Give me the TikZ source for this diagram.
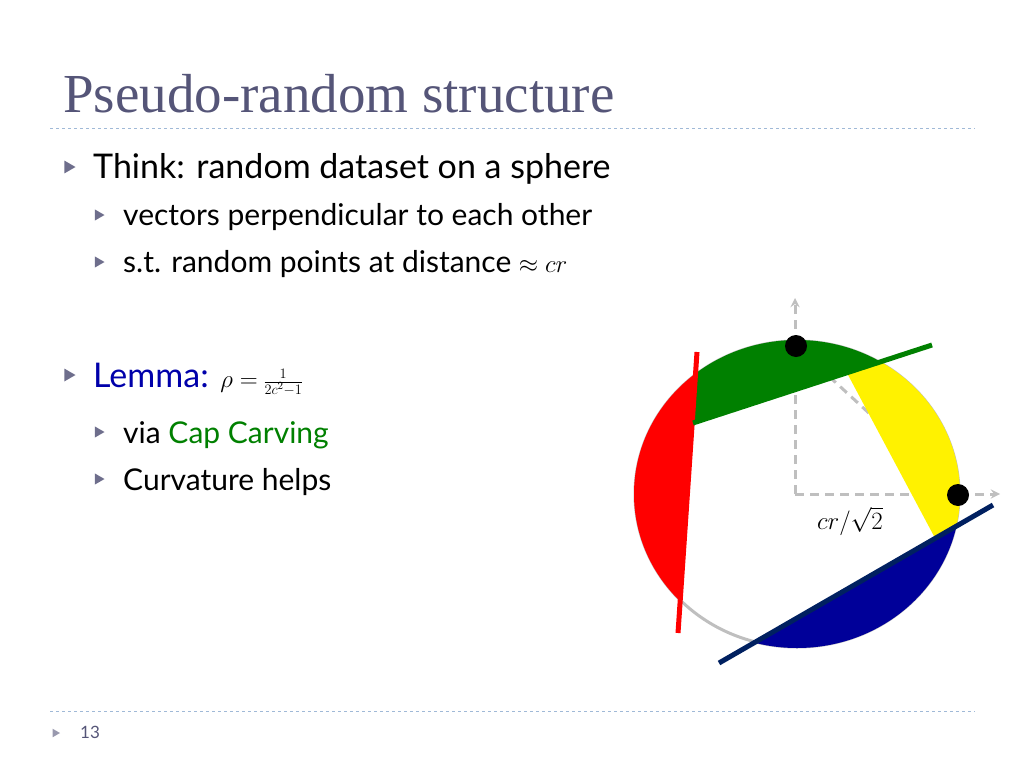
\documentclass[tikz,border=0pt]{standalone}
\usepackage{fontspec}
\setmainfont{Lato}
\newfontfamily\titlefont{Liberation Serif}
\usetikzlibrary{calc}
\definecolor{slategray}{RGB}{85,85,120}
\definecolor{rulecol}{RGB}{160,185,215}
\definecolor{capgreen}{RGB}{0,128,0}
\definecolor{capblue}{RGB}{0,0,153}
\definecolor{navyline}{RGB}{0,32,96}
\definecolor{lemmablue}{RGB}{0,0,170}
\tikzset{>=stealth,
  bul/.style={fill=slategray!85,draw=none,regular polygon,regular polygon sides=3,shape border rotate=-90,inner sep=0pt,minimum size=15pt},
  lvlone/.style={anchor=base west,inner sep=0pt,font=\fontsize{34}{40}\selectfont},
  lvltwo/.style={anchor=base west,inner sep=0pt,font=\fontsize{30}{34}\selectfont},
  axis/.style={gray!50,line width=3pt,dashed,dash pattern=on 9pt off 6pt},
  dot/.style={circle,fill=black,inner sep=0pt,minimum size=22pt}}
\usetikzlibrary{shapes.geometric}
\begin{document}
\begin{tikzpicture}[x=1pt,y=-1pt]
  \useasboundingbox (0,0) rectangle (1024,768);
  % title and rules
  \node[anchor=base west,inner sep=0pt,text=slategray,font=\titlefont\fontsize{55}{60}\selectfont] (title) at (63,112) {Pseudo-random structure};
  \draw[rulecol,dashed,line width=1pt] (50,128) -- (975,128);
  \draw[rulecol,dashed,line width=1pt] (50,711) -- (975,711);
  % bullets
  \node[bul] (b1) at (68,167) {};
  \node[lvlone] (t1) at (93,178) {Think: random dataset on a sphere};
  \node[bul,minimum size=13pt] (b2) at (98,215) {};
  \node[lvltwo] (t2) at (123,225) {vectors perpendicular to each other};
  \node[bul,minimum size=13pt] (b3) at (98,262) {};
  \node[lvltwo] (t3) at (123,272) {s.t. random points at distance $\approx cr$};
  \node[bul] (b4) at (68,375) {};
  \node[lvlone] (t4) at (93,387) {\textcolor{lemmablue}{Lemma:} {\fontsize{32}{36}\selectfont$\rho=$}\,{\fontsize{22}{26}\selectfont$\textstyle\frac{1}{2c^2-1}$}};
  \node[bul,minimum size=13pt] (b5) at (98,432) {};
  \node[lvltwo] (t5) at (123,443) {via \textcolor{capgreen}{Cap Carving}};
  \node[bul,minimum size=13pt] (b6) at (98,479) {};
  \node[lvltwo] (t6) at (123,490) {Curvature helps};
  \node[bul,minimum size=10pt,fill=slategray!60] (b7) at (55,733) {};
  \node[anchor=base west,inner sep=0pt,text=slategray,font=\fontsize{17}{20}\selectfont] (pg) at (80,738) {13};
  % sphere
  \coordinate (o) at (797,494);
  \draw[gray!50,line width=3pt] (o) ellipse [x radius=162,y radius=153];
  \draw[axis] (796,346) -- (958,495);
  \draw[axis,->] (795,494) -- (795,298);
  \draw[axis,->] (795,494) -- (1000,494);
  \begin{scope}
    \clip (o) ellipse [x radius=163,y radius=154];
    \fill[capgreen] (693,423) -- (1000,322) -- (1000,250) -- (693,250) -- cycle;
    \fill[yellow] (847,373) -- (1010,320) -- (1010,495) -- (935,538) -- cycle;
    \fill[red] (700.5,300) -- (674.8,680) -- (600,680) -- (600,300) -- cycle;
    \fill[capblue] (1050,472) -- (650,703) -- (1050,703) -- cycle;
  \end{scope}
  \draw[red,line width=5pt] (697,352) -- (678,633);
  \draw[capgreen,line width=5pt] (693,423) -- (932,345);
  \draw[navyline,line width=5pt] (993,505) -- (719,663);
  \node[dot] (top) at (796,346) {};
  \node[dot] (right) at (958,495) {};
  \node[font=\fontsize{30}{34}\selectfont] (lbl) at (850,521) {$cr/\sqrt{2}$};
\end{tikzpicture}
\end{document}
